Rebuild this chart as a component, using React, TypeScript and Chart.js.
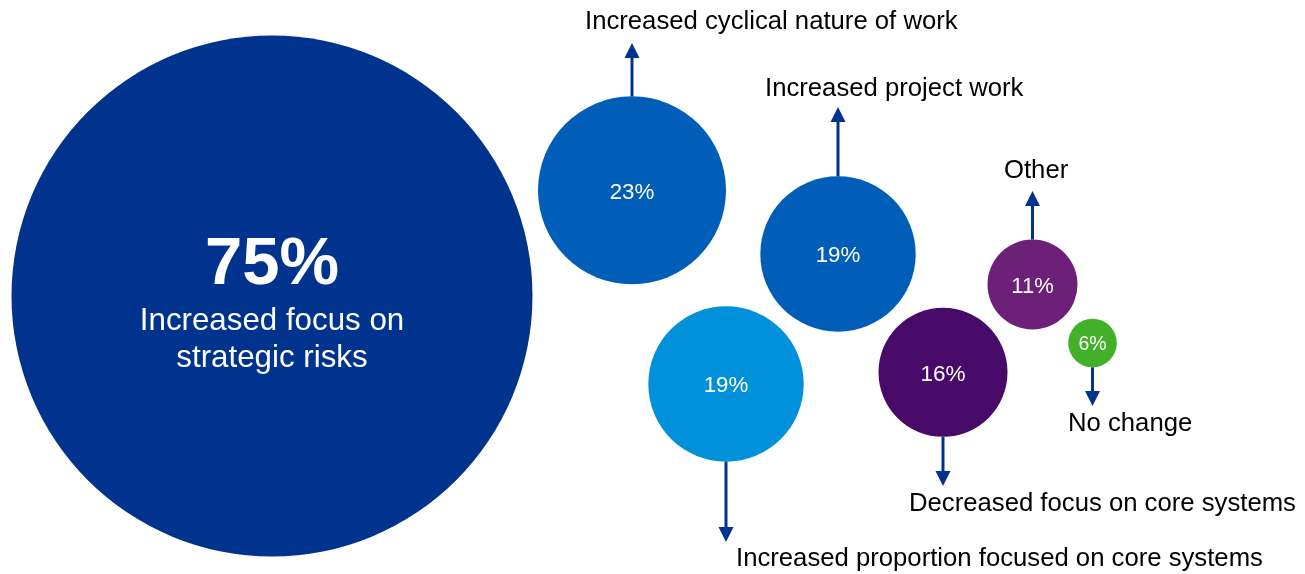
import React, { useEffect, useRef } from "react";
import { Chart, registerables } from "chart.js";

Chart.register(...registerables);

// ---- data ----
const categories = [
  "Increased focus on strategic risks",
  "Increased cyclical nature of work",
  "Increased project work",
  "Increased proportion focused on core systems",
  "Decreased focus on core systems",
  "Other",
  "No change",
];
const percentages = [75, 23, 19, 19, 16, 11, 6];

// ---- layout (chart units = pixels of the 1305x574 frame) ----
const bubbleX = [272, 632, 838, 726, 943, 1032.5, 1092.5];
const bubbleY = [296, 190.3, 254, 384, 372.3, 284.5, 343];
const bubbleRadius = [260.5, 94, 77.7, 77.7, 64.5, 45, 24.3];
const arrowDir = [0, -1, -1, 1, 1, -1, 1];
const arrowTipY = [0, 43, 107, 542, 486, 191, 406];
const labelX = [0, 585, 765, 736, 909, 1004, 1068];
const labelY = [0, 29, 96, 566, 511, 178, 431];
const valueFontSize = [67, 22.3, 22.3, 22.3, 22.5, 22, 19.5];

// ---- styles ----
const bubbleColors = ["#00338D", "#005EB8", "#005EB8", "#0091DA", "#470A68", "#6D2077", "#43B02A"];
const arrowColor = "#00338D";
const FONT = "'Liberation Sans', Arial, Helvetica, sans-serif";

const labelPlugin = {
  id: "bubbleLabels",
  afterDatasetsDraw(chart: any) {
    const ctx = chart.ctx as CanvasRenderingContext2D;
    const xs = chart.scales.x;
    const ys = chart.scales.y;
    ctx.save();
    percentages.forEach((v, i) => {
      const cx = xs.getPixelForValue(bubbleX[i]);
      const cy = ys.getPixelForValue(bubbleY[i]);
      const r = bubbleRadius[i];
      ctx.fillStyle = "#ffffff";
      ctx.textAlign = "center";
      ctx.textBaseline = "alphabetic";
      if (i === 0) {
        ctx.font = `bold ${valueFontSize[i]}px ${FONT}`;
        ctx.fillText(`${v}%`, cx, cy - 12);
        ctx.font = `31.3px ${FONT}`;
        ctx.fillText("Increased focus on", cx, cy + 34);
        ctx.fillText("strategic risks", cx, cy + 70.7);
      } else {
        const fs = valueFontSize[i];
        ctx.font = `${fs}px ${FONT}`;
        ctx.fillText(`${v}%`, cx, cy + fs * 0.716 / 2 + 0.5);
        // arrow
        const dir = arrowDir[i];
        const tip = ys.getPixelForValue(arrowTipY[i]);
        const start = cy + dir * r;
        const headH = 15;
        const headW = 15;
        const base = tip - dir * headH;
        ctx.strokeStyle = arrowColor;
        ctx.lineWidth = 3;
        ctx.beginPath();
        ctx.moveTo(cx, start);
        ctx.lineTo(cx, base);
        ctx.stroke();
        ctx.fillStyle = arrowColor;
        ctx.beginPath();
        ctx.moveTo(cx, tip);
        ctx.lineTo(cx - headW / 2, base);
        ctx.lineTo(cx + headW / 2, base);
        ctx.closePath();
        ctx.fill();
        // category label
        ctx.fillStyle = "#000000";
        ctx.textAlign = "left";
        ctx.font = `25.7px ${FONT}`;
        ctx.fillText(categories[i], xs.getPixelForValue(labelX[i]), ys.getPixelForValue(labelY[i]));
      }
    });
    ctx.restore();
  },
};

export default function App() {
  const ref = useRef<HTMLCanvasElement>(null);
  useEffect(() => {
    document.body.style.margin = "0";
    const canvas = ref.current!;
    const chart = new Chart(canvas, {
      type: "bubble",
      data: {
        datasets: [
          {
            label: "Share",
            data: percentages.map((_, i) => ({ x: bubbleX[i], y: bubbleY[i], r: bubbleRadius[i] })),
            backgroundColor: bubbleColors,
            borderWidth: 0,
            hoverRadius: 0,
            clip: false as any,
          } as any,
        ],
      },
      options: {
        animation: false,
        responsive: false,
        events: [],
        layout: { padding: 0, autoPadding: false },
        plugins: { legend: { display: false }, tooltip: { enabled: false } },
        scales: {
          x: { type: "linear", min: 0, max: 1305, display: false },
          y: { type: "linear", min: 0, max: 574, reverse: true, display: false },
        },
      },
      plugins: [labelPlugin],
    });
    return () => chart.destroy();
  }, []);
  return (
    <div style={{ position: "absolute", left: 0, top: 0, width: 1305, height: 574, background: "#fff" }}>
      <canvas ref={ref} width={1305} height={574} style={{ display: "block" }} />
    </div>
  );
}
